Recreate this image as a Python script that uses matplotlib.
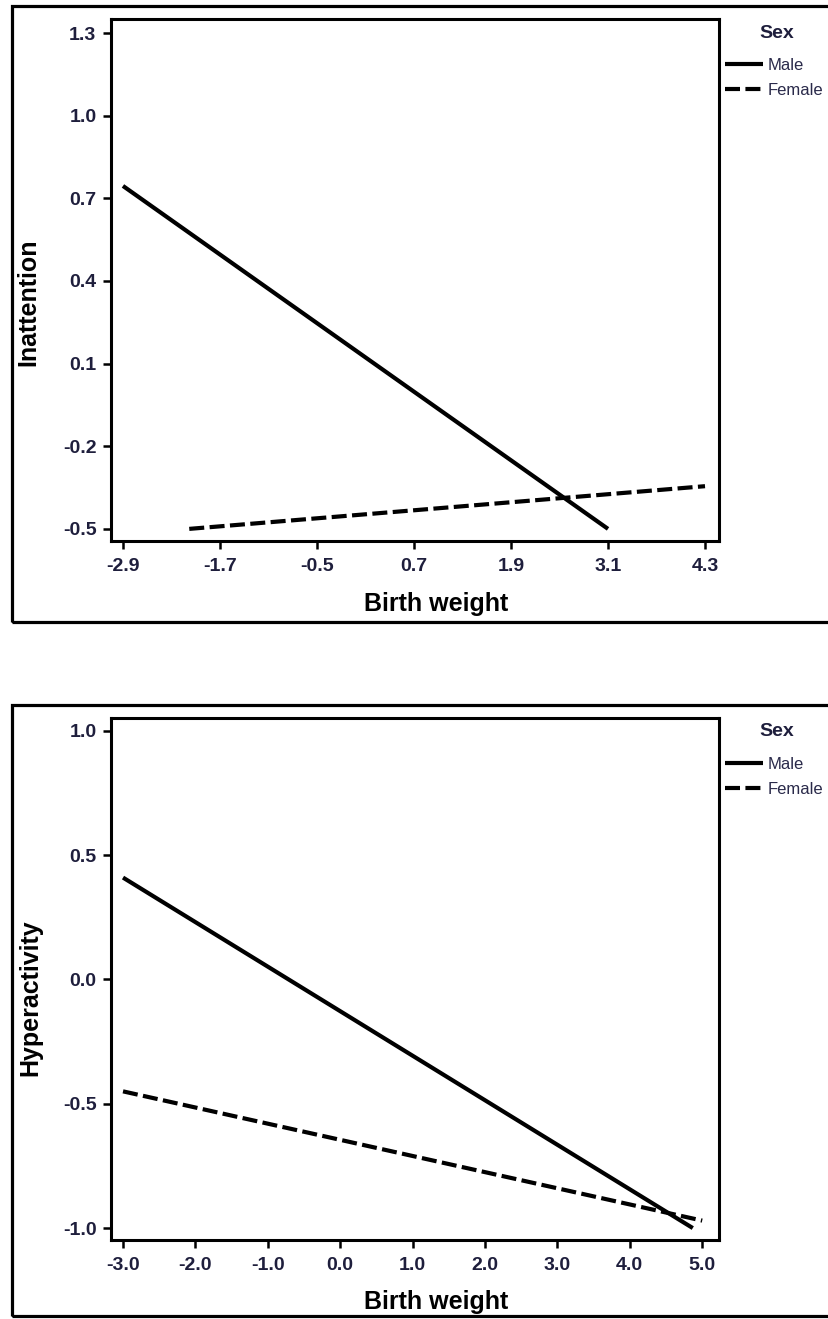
import matplotlib
matplotlib.use("Agg")
import matplotlib.pyplot as plt
from matplotlib.patches import Rectangle

W, H = 829, 1319

# top panel: inattention
inat_xticks = [-2.9, -1.7, -0.5, 0.7, 1.9, 3.1, 4.3]
inat_yticks = [1.3, 1.0, 0.7, 0.4, 0.1, -0.2, -0.5]
inat_male_x = [-2.9, 3.1]
inat_male_y = [0.745, -0.50]
inat_female_x = [-2.08, 4.3]
inat_female_y = [-0.50, -0.345]

# bottom panel: hyperactivity
hyp_xticks = [-3.0, -2.0, -1.0, 0.0, 1.0, 2.0, 3.0, 4.0, 5.0]
hyp_yticks = [1.0, 0.5, 0.0, -0.5, -1.0]
hyp_male_x = [-3.0, 4.87]
hyp_male_y = [0.41, -1.00]
hyp_female_x = [-3.0, 5.0]
hyp_female_y = [-0.45, -0.97]

sexes = ["Male", "Female"]

TXT = "#1e1e3c"
plt.rcParams["font.family"] = ["Liberation Sans", "DejaVu Sans"]


def fx(px):
    return px / W


def fy(py):
    return 1 - py / H


def draw_panel(fig, box, frame, xlim, ylim, xticks, yticks,
               male, female, ylabel, ylabel_pos, xlabel_pos, legend_top):
    left, top, right, bottom = box
    ax = fig.add_axes([fx(left), fy(bottom), (right - left) / W, (bottom - top) / H])

    # outer frame round the whole panel
    fl, ft, fr, fb = frame
    fig.patches.append(Rectangle((fx(fl), fy(fb)), (fr - fl) / W, (fb - ft) / H,
                                 transform=fig.transFigure, fill=False,
                                 lw=2.3, ec="black"))

    l1, = ax.plot(male[0], male[1], color="black", lw=3.0,
                  solid_capstyle="butt", label=sexes[0])
    l2, = ax.plot(female[0], female[1], color="black", lw=3.0,
                  dashes=(3.6, 1.3), dash_capstyle="butt", label=sexes[1])

    ax.set_xlim(*xlim)
    ax.set_ylim(*ylim)
    ax.set_xticks(xticks)
    ax.set_xticklabels([f"{v:.1f}" for v in xticks])
    ax.set_yticks(yticks)
    ax.set_yticklabels([f"{v:.1f}" for v in yticks])
    for s in ax.spines.values():
        s.set_linewidth(2.2)
    ax.tick_params(direction="out", length=5.5, width=1.8, labelsize=14,
                   labelcolor=TXT)
    ax.tick_params(axis="x", pad=7)
    ax.tick_params(axis="y", pad=5)
    for t in ax.get_xticklabels() + ax.get_yticklabels():
        t.set_fontweight("bold")

    fig.text(fx(xlabel_pos[0]), fy(xlabel_pos[1]), "Birth weight",
             ha="center", va="center", fontsize=18, fontweight="bold",
             color="black")
    fig.text(fx(ylabel_pos[0]), fy(ylabel_pos[1]), ylabel,
             ha="center", va="center", rotation=90, fontsize=18,
             fontweight="bold", color="black")

    # legend title drawn on its own so its gap to the entries can be set
    fig.text(fx(777), fy(legend_top), "Sex", ha="center", va="center",
             fontsize=14, fontweight="bold", color=TXT)
    leg = ax.legend(handles=[l1, l2], loc="upper left",
                    bbox_to_anchor=(fx(725), fy(legend_top + 25)),
                    bbox_transform=fig.transFigure, frameon=False,
                    fontsize=12, handlelength=2.3,
                    handletextpad=0.25, labelspacing=0.6, borderpad=0,
                    borderaxespad=0)
    for t in leg.get_texts():
        t.set_color("#2a2a4a")
    return ax


fig = plt.figure(figsize=(W / 100, H / 100), dpi=100)

draw_panel(fig, (111, 19, 719, 541), (12, 6, 840, 622),
           (-3.048, 4.473), (-0.544, 1.351), inat_xticks, inat_yticks,
           (inat_male_x, inat_male_y), (inat_female_x, inat_female_y),
           "Inattention", (28, 302), (436, 604), 33)

draw_panel(fig, (111, 718, 719, 1240), (12, 705, 840, 1316),
           (-3.166, 5.232), (-1.048, 1.052), hyp_xticks, hyp_yticks,
           (hyp_male_x, hyp_male_y), (hyp_female_x, hyp_female_y),
           "Hyperactivity", (30, 998), (436, 1302), 732)

fig.savefig("out.png", dpi=100)
